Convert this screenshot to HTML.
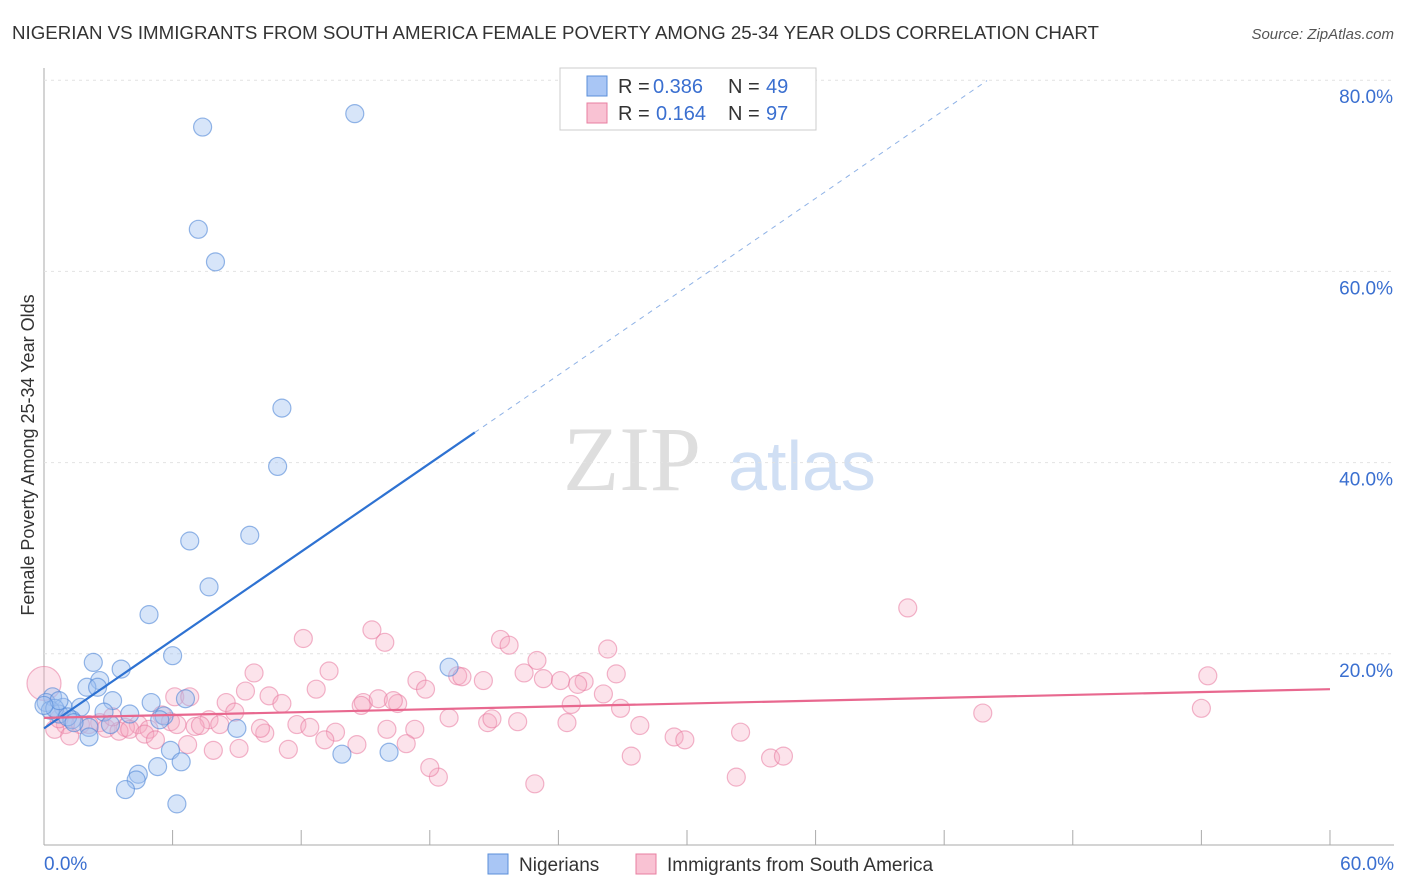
<!DOCTYPE html>
<html><head><meta charset="utf-8"><style>
body{margin:0;background:#fff;font-family:"Liberation Sans",sans-serif;}
#c{position:relative;width:1406px;height:892px;overflow:hidden}
</style></head><body>
<div id="c">
<svg id="s" width="1406" height="892" xmlns="http://www.w3.org/2000/svg">
<text x="12" y="39" font-size="18" fill="#333" textLength="1087" lengthAdjust="spacingAndGlyphs">NIGERIAN VS IMMIGRANTS FROM SOUTH AMERICA FEMALE POVERTY AMONG 25-34 YEAR OLDS CORRELATION CHART</text>
<text x="1394" y="39" font-size="15" fill="#555" font-style="italic" text-anchor="end">Source: ZipAtlas.com</text>
<text x="632" y="490" font-size="92" fill="#dedede" font-family="Liberation Serif,serif" text-anchor="middle">ZIP</text>
<text x="802" y="490" font-size="70" fill="#d0dff4" text-anchor="middle">atlas</text>
<text transform="translate(34,455) rotate(-90)" font-size="18" fill="#333" text-anchor="middle">Female Poverty Among 25-34 Year Olds</text>
<g id="grid"></g><g id="pts"></g><g id="trend"></g>
<g>
<rect x="560" y="68" width="256" height="62" fill="#fff" stroke="#ccc"/>
<rect x="587" y="76" width="20" height="20" fill="#a9c6f5" stroke="#5b8fd9"/>
<text x="618" y="93" font-size="20" fill="#333">R =</text>
<text x="653" y="93" font-size="20" fill="#3a6fd0">0.386</text>
<text x="728" y="93" font-size="20" fill="#333">N =</text>
<text x="766" y="93" font-size="20" fill="#3a6fd0">49</text>
<rect x="587" y="103" width="20" height="20" fill="#f9c2d3" stroke="#e87fa0"/>
<text x="618" y="120" font-size="20" fill="#333">R =</text>
<text x="656" y="120" font-size="20" fill="#3a6fd0">0.164</text>
<text x="728" y="120" font-size="20" fill="#333">N =</text>
<text x="766" y="120" font-size="20" fill="#3a6fd0">97</text>
</g>
<g>
<rect x="488" y="854" width="20" height="20" fill="#a9c6f5" stroke="#5b8fd9"/>
<text x="519" y="871" font-size="19" fill="#333">Nigerians</text>
<rect x="636" y="854" width="20" height="20" fill="#f9c2d3" stroke="#e87fa0"/>
<text x="667" y="871" font-size="19" fill="#333">Immigrants from South America</text>
</g>
</svg>
</div>
<script>
const xTicks=[0,6,12,18,24,30,36,42,48,54,60];
const yTicks=[20,40,60,80];
const blueX=[7.4,14.5,7.2,8,11.1,10.9,6.8,9.6,7.7,4.9,2.3,3.6,6,18.9,2.6,2,2.5,6.6,3.2,5,0.4,0.1,0.9,1.7,4,5.6,2.8,5.4,9,0.7,1.3,2.1,3.1,2.1,0.3,0.5,5.9,6.4,5.3,4.4,4.3,3.8,6.2,13.9,16.1,0.7,1.1,0,1.4];
const blueY=[75.1,76.5,64.4,61,45.7,39.6,31.8,32.4,27,24.1,19.1,18.4,19.8,18.6,17.2,16.5,16.5,15.3,15.1,14.9,15.5,14.9,14.4,14.4,13.7,13.5,13.9,13.1,12.2,13.7,13.1,12.3,12.6,11.3,14.1,14.3,9.9,8.7,8.2,7.4,6.8,5.8,4.3,9.5,9.7,15.1,13.4,14.6,12.8];
const pinkX=[0,12.1,15.3,15.9,40.3,21.3,21.7,26.3,23,9.8,13.3,26.7,54.3,19.3,19.5,20.5,22.4,23.3,24.1,25.2,24.9,17.4,17.8,12.7,9.4,10.5,11.1,6.1,6.8,8.5,14.9,15.6,16.5,16.3,14.8,18.9,20.7,20.9,22.1,24.4,24.6,26.1,26.9,27.8,43.8,54,8.9,7.7,11.8,12.4,13.6,16,17.3,8.2,5.5,4.4,3.8,2.6,2.9,3.5,4,1.7,1,0.5,0.7,4.9,5.9,7.05,7.3,10.3,10.1,13.1,14.6,16.9,6.7,7.9,11.4,29.4,29.9,32.5,27.4,33.9,34.5,32.3,22.9,18.4,18,4.7,9.1,1.2,2.1,3.2,6.2,5.2];
const pinkY=[16.9,21.6,22.5,21.2,24.8,21.5,20.9,20.5,19.3,18,18.2,17.9,17.7,17.7,17.6,17.2,18,17.4,17.2,17.1,16.8,17.2,16.3,16.3,16.1,15.6,14.8,15.5,15.5,14.9,14.9,15.3,14.8,15.1,14.6,13.3,12.8,13.2,12.9,12.8,14.7,15.8,14.3,12.5,13.8,14.3,13.9,13.1,12.6,12.3,11.8,12.1,12.1,12.6,13.6,12.6,12.3,12.8,12.2,11.9,12.1,12.6,12.6,12.1,13.2,12.1,12.9,12.4,12.5,11.7,12.2,11,10.5,10.6,10.5,9.9,10,11.3,11,11.8,9.3,9.1,9.3,7.1,6.4,7.1,8.1,11.6,10.1,11.4,12.6,13.4,12.6,11];
const blueTrend=[12.2,1.54];
const pinkTrend=[13.3,0.05];
const X=v=>44+v*21.433, Y=v=>845-v*9.56;
const NS="http://www.w3.org/2000/svg";
function mk(tag,at,parent){const e=document.createElementNS(NS,tag);for(const k in at)e.setAttribute(k,at[k]);document.getElementById(parent).appendChild(e);return e;}
let e=mk('line',{x1:44,y1:68,x2:44,y2:845,stroke:'#aaa'},'grid');


e=mk('line',{x1:44,y1:845,x2:1394,y2:845,stroke:'#aaa'},'grid');


yTicks.forEach(t=>{
 let g=mk('line',{x1:44,y1:Y(t),x2:1394,y2:Y(t),stroke:'#e2e2e2','stroke-dasharray':'3,4'},'grid');
 
 
 let l=mk('text',{x:1393,y:Y(t)+23,'font-size':19,fill:'#3a6fd0','text-anchor':'end'},'grid');
 l.textContent=t.toFixed(1)+'%';
 
 
});
xTicks.forEach(t=>{
 let g=mk('line',{x1:X(t),y1:830,x2:X(t),y2:845,stroke:'#aaa'},'grid');
 
 
});
[[0,44,'start'],[60,1394,'end']].forEach(([t,x,a])=>{
 let l=mk('text',{x:x,y:870,'font-size':19,fill:'#3a6fd0','text-anchor':a},'grid');
 l.textContent=t.toFixed(1)+'%';
 
 
});
pinkX.forEach((x,i)=>{
 let c=mk('circle',{cx:X(x),cy:Y(pinkY[i]),r:i==0?17:9,fill:'rgba(246,170,195,0.33)',stroke:'rgba(232,120,158,0.55)','stroke-width':1.2},'pts');
 
 
});
blueX.forEach((x,i)=>{
 let c=mk('circle',{cx:X(x),cy:Y(blueY[i]),r:9,fill:'rgba(160,192,240,0.42)',stroke:'rgba(80,135,215,0.6)','stroke-width':1.2},'pts');
 
 
});
const bx1=20.1,bx2=44;
e=mk('line',{x1:X(0),y1:Y(blueTrend[0]),x2:X(bx1),y2:Y(blueTrend[0]+blueTrend[1]*bx1),stroke:'#2e72d2','stroke-width':2.2},'trend');


e=mk('line',{x1:X(bx1),y1:Y(blueTrend[0]+blueTrend[1]*bx1),x2:X(bx2),y2:Y(blueTrend[0]+blueTrend[1]*bx2),stroke:'#8fb2e6','stroke-width':1,'stroke-dasharray':'5,5'},'trend');


e=mk('line',{x1:X(0),y1:Y(pinkTrend[0]),x2:X(60),y2:Y(pinkTrend[0]+pinkTrend[1]*60),stroke:'#e8688f','stroke-width':2.2},'trend');


</script>
</body></html>
